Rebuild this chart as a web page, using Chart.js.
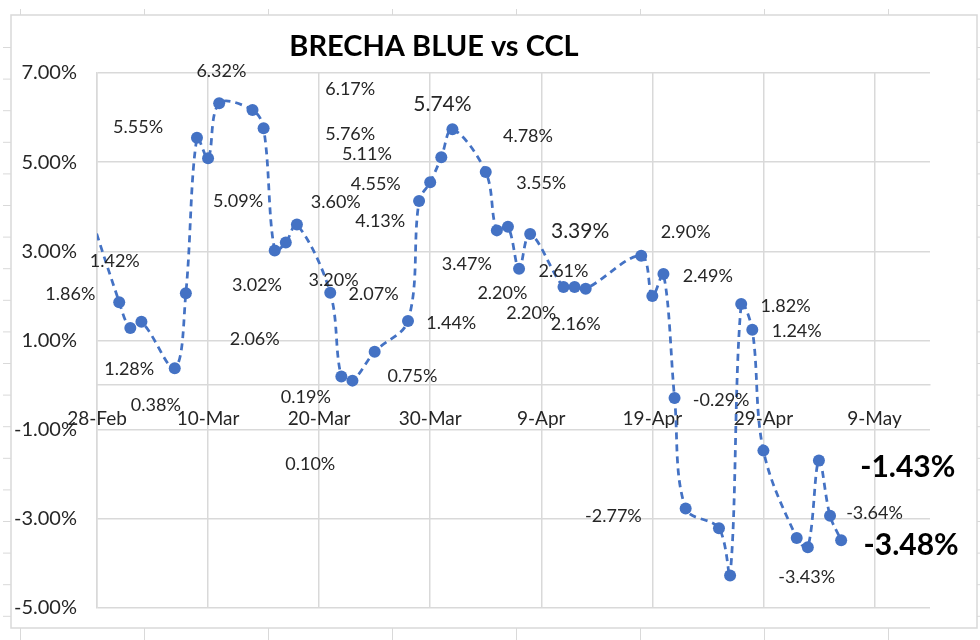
<!DOCTYPE html>
<html>
<head>
<meta charset="utf-8">
<script src="https://cdn.jsdelivr.net/npm/chart.js@4"></script>
<style>
  html, body { margin: 0; padding: 0; background: #fff; }
  #wrap { width: 980px; height: 640px; position: relative; }
</style>
</head>
<body>
<div id="wrap"><canvas id="brecha"></canvas></div>
<script>
// fechas (2022) y brecha blue vs CCL en %
const fechas = [
    '2022-02-25',
    '2022-03-02', '2022-03-03', '2022-03-04',
    '2022-03-07', '2022-03-08', '2022-03-09', '2022-03-10', '2022-03-11',
    '2022-03-14', '2022-03-15', '2022-03-16', '2022-03-17', '2022-03-18',
    '2022-03-21', '2022-03-22', '2022-03-23', '2022-03-25',
    '2022-03-28', '2022-03-29', '2022-03-30', '2022-03-31', '2022-04-01',
    '2022-04-04', '2022-04-05', '2022-04-06', '2022-04-07', '2022-04-08',
    '2022-04-11', '2022-04-12', '2022-04-13',
    '2022-04-18', '2022-04-19', '2022-04-20', '2022-04-21', '2022-04-22',
    '2022-04-25', '2022-04-26', '2022-04-27', '2022-04-28', '2022-04-29',
    '2022-05-02', '2022-05-03', '2022-05-04', '2022-05-05', '2022-05-06'
];
const brecha = [
    5.70,
    1.86, 1.28, 1.42,
    0.38, 2.06, 5.55, 5.09, 6.32,
    6.17, 5.76, 3.02, 3.20, 3.60,
    2.07, 0.19, 0.10, 0.75,
    1.44, 4.13, 4.55, 5.11, 5.74,
    4.78, 3.47, 3.55, 2.61, 3.39,
    2.20, 2.20, 2.16,
    2.90, 2.00, 2.49, -0.29, -2.77,
    -3.21, -4.27, 1.82, 1.24, -1.47,
    -3.43, -3.64, -1.69, -2.93, -3.48
];
const yTicks = [-5, -3, -1, 1, 3, 5, 7];
const xTickDias = [0, 10, 20, 30, 40, 50, 60, 70];
const meses = ['Jan', 'Feb', 'Mar', 'Apr', 'May', 'Jun'];

// etiquetas de datos tal como quedaron en el grafico original (dia desde 28-Feb, valor)
const etiquetas = [
    ['6.32%', 11.2, 7.05], ['5.55%', 3.7, 5.79], ['5.09%', 12.7, 4.13],
    ['3.60%', 21.5, 4.10], ['1.42%', 1.6, 2.78], ['1.86%', -2.4, 2.03],
    ['3.02%', 14.4, 2.25], ['2.06%', 14.2, 1.04], ['1.28%', 2.9, 0.36],
    ['6.17%', 22.8, 6.64], ['5.76%', 22.8, 5.62], ['5.11%', 24.3, 5.19],
    ['4.78%', 38.8, 5.58], ['4.55%', 25.1, 4.50], ['3.55%', 40.0, 4.53],
    ['4.13%', 25.5, 3.68], ['3.20%', 21.3, 2.36], ['2.07%', 24.9, 2.03],
    ['3.47%', 33.3, 2.72], ['2.61%', 42.0, 2.55], ['2.20%', 36.5, 2.07],
    ['2.20%', 39.1, 1.62], ['1.44%', 31.9, 1.38], ['2.16%', 43.1, 1.36],
    ['0.75%', 28.4, 0.19], ['0.38%', 5.3, -0.45], ['0.19%', 18.8, -0.28],
    ['0.10%', 19.2, -1.77], ['2.90%', 53.0, 3.44], ['2.49%', 55.0, 2.44],
    ['1.82%', 62.0, 1.77], ['1.24%', 63.0, 1.20], ['-0.29%', 56.2, -0.34],
    ['-2.77%', 46.5, -2.93], ['-3.64%', 70.0, -2.87], ['-3.43%', 63.9, -4.30]
];
const etiquetasGrandes = [['5.74%', 31.1, 6.31], ['3.39%', 43.5, 3.45]];
const etiquetasBold = [['-1.43%', 73.0, -1.84], ['-3.48%', 73.3, -3.60]];

const DIA = 86400000;
const inicio = Date.UTC(2022, 1, 28);
function diaDesdeInicio(iso) {
    const p = iso.split('-').map(Number);
    return Math.round((Date.UTC(p[0], p[1] - 1, p[2]) - inicio) / DIA);
}
function formatoDia(d) {
    const f = new Date(inicio + d * DIA);
    return f.getUTCDate() + '-' + meses[f.getUTCMonth()];
}

const puntos = fechas.map((f, i) => ({ x: diaDesdeInicio(f), y: brecha[i] }));
const FUENTE = 'Lato, "Open Sans", sans-serif';
const GRIS = '#d9d9d9';
const TEXTO = '#262626';

// marco de la hoja y titulo
const marcoPlugin = {
    id: 'marco',
    beforeDraw(chart) {
        const ctx = chart.ctx;
        ctx.save();
        ctx.strokeStyle = GRIS;
        ctx.lineWidth = 1.5;
        ctx.strokeRect(11, 15, 966, 613);
        ctx.lineWidth = 1;
        ctx.beginPath();
        for (let y = 47.5; y < 628; y += 31.6) {
            ctx.moveTo(3, y); ctx.lineTo(11, y);
            ctx.moveTo(977, y); ctx.lineTo(980, y);
        }
        for (let x = 20.5; x < 977; x += 124) {
            ctx.moveTo(x, 9); ctx.lineTo(x, 15);
            ctx.moveTo(x, 628); ctx.lineTo(x, 640);
        }
        ctx.stroke();
        ctx.fillStyle = '#000';
        ctx.font = 'bold 29px ' + FUENTE;
        ctx.textAlign = 'center';
        ctx.textBaseline = 'middle';
        ctx.fillText('BRECHA BLUE vs CCL', 434, 47);
        ctx.restore();
    }
};

const etiquetasPlugin = {
    id: 'etiquetas',
    afterDatasetsDraw(chart) {
        const ctx = chart.ctx;
        const xs = chart.scales.x, ys = chart.scales.y;
        ctx.save();
        ctx.textAlign = 'center';
        ctx.textBaseline = 'middle';
        const dibujar = (lista, font, color) => {
            ctx.font = font;
            ctx.fillStyle = color;
            lista.forEach(e => ctx.fillText(e[0], xs.getPixelForValue(e[1]), ys.getPixelForValue(e[2])));
        };
        dibujar(etiquetas, '18px ' + FUENTE, TEXTO);
        dibujar(etiquetasGrandes, '21px ' + FUENTE, TEXTO);
        dibujar(etiquetasBold, 'bold 30px ' + FUENTE, '#000');
        ctx.restore();
    }
};

new Chart(document.getElementById('brecha'), {
    type: 'line',
    data: {
        datasets: [{
            data: puntos,
            borderColor: '#4472c4',
            backgroundColor: '#4472c4',
            borderWidth: 2.75,
            borderDash: [7, 5],
            tension: 0.35,
            pointRadius: 6,
            pointBorderWidth: 0,
            pointBackgroundColor: '#4472c4'
        }]
    },
    options: {
        responsive: true,
        maintainAspectRatio: false,
        animation: false,
        layout: { padding: { left: 0, top: 73, right: 50, bottom: 27 } },
        plugins: {
            legend: { display: false },
            tooltip: { enabled: false }
        },
        scales: {
            x: {
                type: 'linear',
                position: { y: 0 },
                min: 0,
                max: 75,
                afterBuildTicks: s => { s.ticks = xTickDias.map(v => ({ value: v })); },
                grid: { color: GRIS, lineWidth: 1.5, drawTicks: false },
                border: { color: GRIS, width: 1.5 },
                ticks: {
                    padding: 22,
                    maxRotation: 0,
                    color: TEXTO,
                    font: { family: FUENTE, size: 19 },
                    callback: v => formatoDia(v)
                }
            },
            y: {
                min: -5,
                max: 7,
                afterBuildTicks: s => { s.ticks = yTicks.map(v => ({ value: v })); },
                afterFit: s => { s.width = 97; },
                grid: { color: GRIS, lineWidth: 1.5, drawTicks: false },
                border: { color: GRIS, width: 1.5 },
                ticks: {
                    padding: 20,
                    color: TEXTO,
                    font: { family: FUENTE, size: 20 },
                    callback: v => v.toFixed(2) + '%'
                }
            }
        }
    },
    plugins: [marcoPlugin, etiquetasPlugin]
});
</script>
</body>
</html>
